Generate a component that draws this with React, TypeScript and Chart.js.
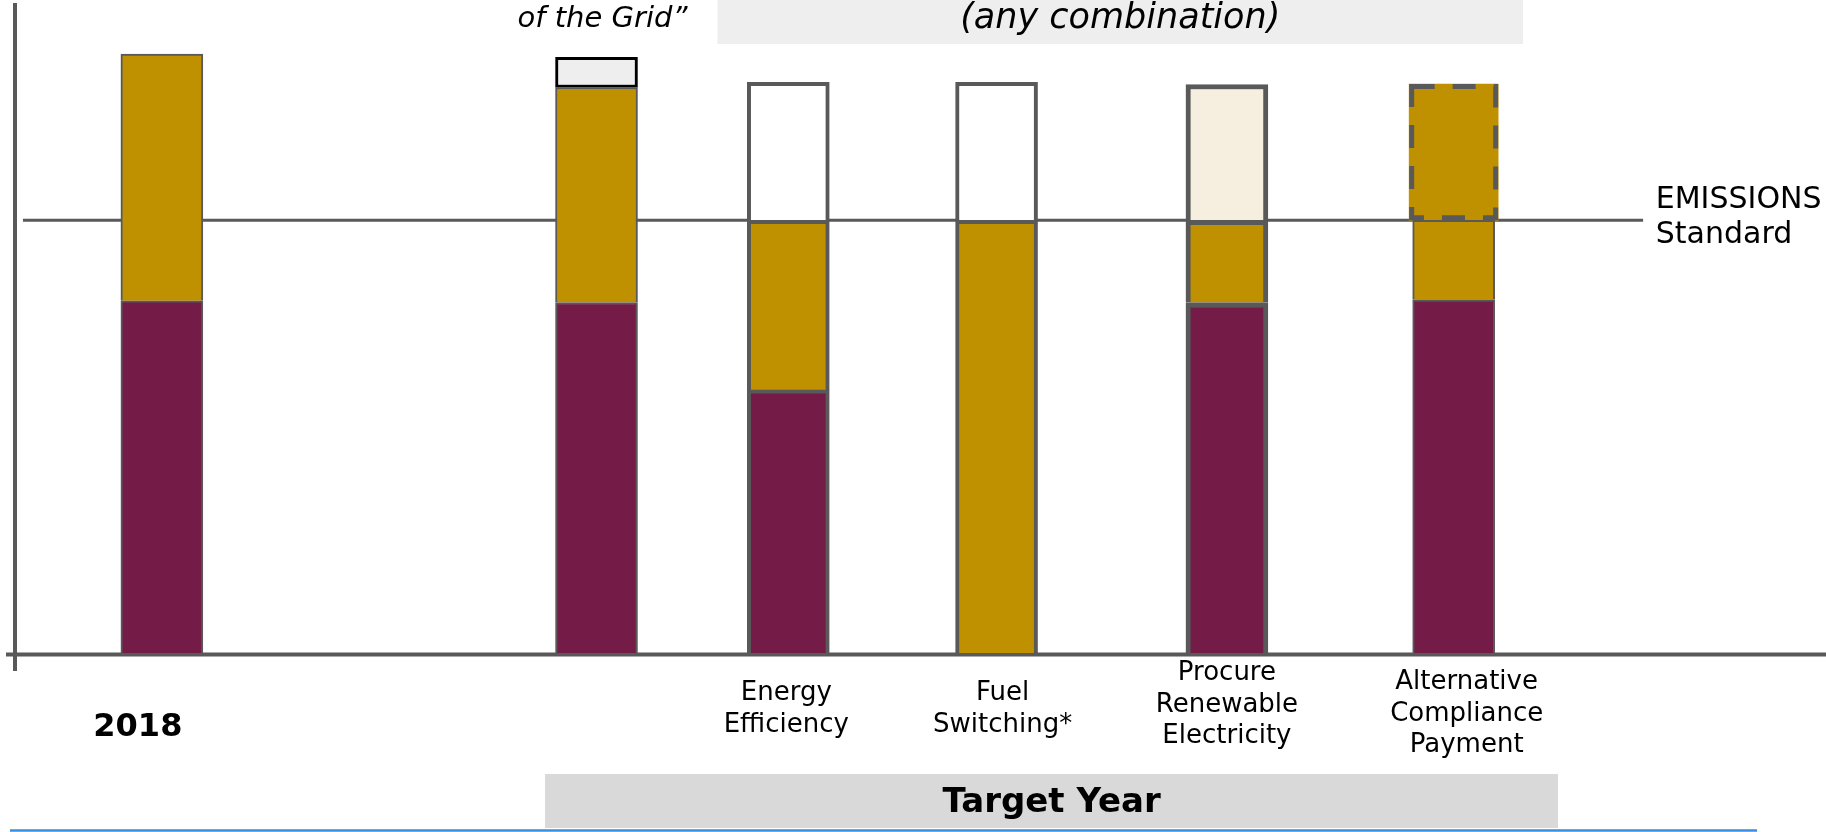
import { useEffect, useRef } from "react";
import { Chart, registerables } from "chart.js";

Chart.register(...registerables);

// ---------------- data ----------------
const CATEGORY_LABELS: string[][] = [
  ["2018"],
  [],
  ["Energy", "Efficiency"],
  ["Fuel", "Switching*"],
  ["Procure", "Renewable", "Electricity"],
  ["Alternative", "Compliance", "Payment"],
];
// position of each bar along the (unitless) horizontal axis
const CATEGORY_POSITIONS = [8.11, 32.11, 42.7, 54.2, 66.92, 79.44];
// stacked segments (emissions, standard = 100)
const ELECTRICITY = [81.4, 81.0, 60.8, null, 81.0, 81.7];
const ONSITE_FUEL = [57.0, 49.7, 39.2, 100, 19.0, 18.3];
const REDUCTION = [null, 7.0, 31.9, 31.9, 31.4, null];
const COMPLIANCE_PAYMENT = [null, null, null, null, null, 31.5];
const STANDARD_VALUE = 100;
const Y_MAX = 150;
const X_MAX = 100;

const TOP_NOTE = "of the Grid\u201D";
const TOP_GROUP = "(any combination)";
const BOTTOM_GROUP = "Target Year";
const STANDARD_LABEL = ["EMISSIONS", "Standard"];

// annotation spans in x units
const TOP_BAND = [38.79, 83.27];
const BOTTOM_BAND = [29.27, 85.2];
const STANDARD_SPAN = [0.44, 89.9];
const STANDARD_LABEL_X = 90.6;

// ---------------- styles ----------------
const PURPLE = "#741b47";
const GOLD = "#bf9000";
const EDGE = "#595959";
const FONT = '"DejaVu Sans", sans-serif';
const BAR_EDGE_WIDTHS = [2, 2, 4, 4, 5, 2];
const REDUCTION_FILLS = ["#ffffff", "#eeeeee", "#ffffff", "#ffffff", "#f6efdf", "#ffffff"];
const REDUCTION_EDGES = [EDGE, "#000000", EDGE, EDGE, EDGE, EDGE];
const REDUCTION_EDGE_WIDTHS = [4, 3, 4, 4, 5, 4];
const LABEL_DX = [-24, 0, -2, 6, 0, 13];
const LABEL_DY = [0, 0, 2, 2, -2, 7];

const points = (vals: (number | null)[]) =>
  vals.map((y, i) => ({ x: CATEGORY_POSITIONS[i], y }));

const decorations = {
  id: "decorations",
  beforeDatasetsDraw(chart: any) {
    const { ctx, scales } = chart;
    const xs = scales.x;
    const ys = scales.y;
    const base = ys.getPixelForValue(0);
    ctx.save();
    // top grey band
    ctx.fillStyle = "#eeeeee";
    const tl = xs.getPixelForValue(TOP_BAND[0]);
    const tr = xs.getPixelForValue(TOP_BAND[1]);
    ctx.fillRect(tl, 0, tr - tl, 44);
    // standard line
    const sy = ys.getPixelForValue(STANDARD_VALUE);
    ctx.strokeStyle = EDGE;
    ctx.lineWidth = 3;
    ctx.beginPath();
    ctx.moveTo(xs.getPixelForValue(STANDARD_SPAN[0]), sy);
    ctx.lineTo(xs.getPixelForValue(STANDARD_SPAN[1]), sy);
    ctx.stroke();
    // axes
    ctx.lineWidth = 4;
    ctx.beginPath();
    ctx.moveTo(chart.chartArea.left, 3);
    ctx.lineTo(chart.chartArea.left, base + 18);
    ctx.stroke();
    ctx.beginPath();
    ctx.moveTo(6, base + 1.5);
    ctx.lineTo(chart.width, base + 1.5);
    ctx.stroke();
    ctx.restore();
  },
  afterDatasetsDraw(chart: any) {
    const { ctx } = chart;
    const meta = chart.getDatasetMeta(3);
    const lw = 5;
    ctx.save();
    ctx.strokeStyle = EDGE;
    ctx.lineWidth = lw;
    ctx.setLineDash([23, 18]);
    meta.data.forEach((el: any, i: number) => {
      if (COMPLIANCE_PAYMENT[i] == null) return;
      const p = el.getProps(["x", "y", "base", "width"], true);
      const l = p.x - p.width / 2 + lw / 2;
      const r = p.x + p.width / 2 - lw / 2;
      const t = p.y + lw / 2;
      const b = p.base - lw / 2;
      ctx.beginPath();
      ctx.moveTo(l, t);
      ctx.lineTo(r, t);
      ctx.lineTo(r, b);
      ctx.lineTo(l, b);
      ctx.closePath();
      ctx.stroke();
    });
    ctx.restore();
  },
  afterDraw(chart: any) {
    const { ctx, scales } = chart;
    const xs = scales.x;
    const ys = scales.y;
    const base = ys.getPixelForValue(0);
    ctx.save();
    ctx.fillStyle = "#000000";
    ctx.textAlign = "center";
    ctx.textBaseline = "middle";
    // category labels
    CATEGORY_LABELS.forEach((lines, i) => {
      const x = xs.getPixelForValue(CATEGORY_POSITIONS[i]) + LABEL_DX[i];
      if (i === 0) {
        ctx.font = `bold 32px ${FONT}`;
        lines.forEach((s) => ctx.fillText(s, x, base + 75));
        return;
      }
      ctx.font = `26px ${FONT}`;
      const lh = 31.5;
      const cy = base + 54 + LABEL_DY[i];
      lines.forEach((s, k) => {
        ctx.fillText(s, x, cy + (k - (lines.length - 1) / 2) * lh);
      });
    });
    // header texts
    ctx.font = `italic 29px ${FONT}`;
    ctx.fillText(TOP_NOTE, xs.getPixelForValue(CATEGORY_POSITIONS[1]) + 6, 19);
    ctx.font = `italic 35px ${FONT}`;
    const tl = xs.getPixelForValue(TOP_BAND[0]);
    const tr = xs.getPixelForValue(TOP_BAND[1]);
    ctx.fillText(TOP_GROUP, (tl + tr) / 2, 19);
    // standard label
    ctx.textAlign = "left";
    ctx.font = `30px ${FONT}`;
    const sy = ys.getPixelForValue(STANDARD_VALUE);
    ctx.fillText(STANDARD_LABEL[0], xs.getPixelForValue(STANDARD_LABEL_X), sy - 20);
    ctx.fillText(STANDARD_LABEL[1], xs.getPixelForValue(STANDARD_LABEL_X), sy + 15);
    // bottom band
    const bl = xs.getPixelForValue(BOTTOM_BAND[0]);
    const br = xs.getPixelForValue(BOTTOM_BAND[1]);
    ctx.fillStyle = "#d9d9d9";
    ctx.fillRect(bl, base + 121, br - bl, 54);
    ctx.fillStyle = "#000000";
    ctx.textAlign = "center";
    ctx.font = `bold 34px ${FONT}`;
    ctx.fillText(BOTTOM_GROUP, (bl + br) / 2, base + 150);
    // blue rule
    ctx.strokeStyle = "#3d8edb";
    ctx.lineWidth = 2.5;
    ctx.beginPath();
    ctx.moveTo(10, chart.height - 1.5);
    ctx.lineTo(1757, chart.height - 1.5);
    ctx.stroke();
    ctx.restore();
  },
};

export default function App() {
  const ref = useRef<HTMLCanvasElement>(null);
  useEffect(() => {
    document.body.style.margin = "0";
    document.body.style.overflow = "hidden";
    const chart = new Chart(ref.current as HTMLCanvasElement, {
      type: "bar",
      data: {
        datasets: [
          {
            label: "Electricity emissions",
            data: points(ELECTRICITY) as any,
            backgroundColor: PURPLE,
            borderColor: EDGE,
            borderWidth: (c: any) => BAR_EDGE_WIDTHS[c.dataIndex],
            borderSkipped: "start",
            barThickness: 82,
            stack: "s",
          },
          {
            label: "On-site fuel emissions",
            data: points(ONSITE_FUEL) as any,
            backgroundColor: GOLD,
            borderColor: EDGE,
            borderWidth: (c: any) => BAR_EDGE_WIDTHS[c.dataIndex],
            borderSkipped: "start",
            barThickness: 82,
            stack: "s",
          },
          {
            label: "Reduction needed",
            data: points(REDUCTION) as any,
            backgroundColor: (c: any) => REDUCTION_FILLS[c.dataIndex],
            borderColor: (c: any) => REDUCTION_EDGES[c.dataIndex],
            borderWidth: (c: any) => REDUCTION_EDGE_WIDTHS[c.dataIndex],
            borderSkipped: (c: any) => (c.dataIndex === 1 ? false : "start"),
            barThickness: 82,
            stack: "s",
          } as any,
          {
            label: "Alternative compliance payment",
            data: points(COMPLIANCE_PAYMENT) as any,
            backgroundColor: GOLD,
            borderWidth: 0,
            barThickness: 89,
            stack: "s",
          },
        ],
      },
      options: {
        responsive: false,
        animation: false,
        layout: { padding: { left: 15, right: 0, top: 4, bottom: 179 } },
        plugins: { legend: { display: false }, tooltip: { enabled: false } },
        scales: {
          x: {
            type: "linear",
            min: 0,
            max: X_MAX,
            offset: false,
            stacked: true,
            display: false,
          },
          y: {
            type: "linear",
            min: 0,
            max: Y_MAX,
            stacked: true,
            display: false,
          },
        },
      },
      plugins: [decorations],
    });
    return () => chart.destroy();
  }, []);
  return (
    <div style={{ width: 1826, height: 832 }}>
      <canvas ref={ref} width={1826} height={832} style={{ display: "block" }} />
    </div>
  );
}
